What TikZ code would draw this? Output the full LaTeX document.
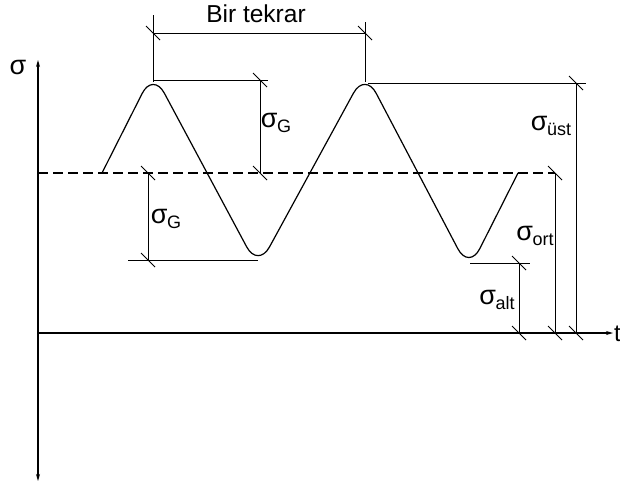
\documentclass[tikz,border=0pt]{standalone}
\usepackage{fontspec}
\setmainfont{Liberation Sans}
\usetikzlibrary{arrows.meta}
\newcommand{\sig}[1]{\fontsize{27}{30}\selectfont σ\kern-0.5pt\raisebox{-0.4ex}{\fontsize{18}{20}\selectfont #1}}
\begin{document}
\begin{tikzpicture}[x=1pt,y=-1pt,
  ln/.style={line width=1.2pt},
  thin/.style={line width=0.9pt},
  tk/.style={line width=0.9pt},
  lbl/.style={inner sep=0pt}]
\useasboundingbox (0,0) rectangle (620,483);
\clip (0,0) rectangle (620,483);
% key points
\coordinate (O) at (38,333);
\coordinate (Ytop) at (38,60);
\coordinate (Ybot) at (38,481);
\coordinate (Xend) at (613,333);
\coordinate (M0) at (38,173);
\coordinate (M1) at (555,173);
\coordinate (S) at (102,173);
\coordinate (P1) at (153,72);
\coordinate (T1) at (258,268);
\coordinate (P2) at (365,72);
\coordinate (T2) at (469,270);
\coordinate (E) at (518,173);
% axes
\draw[ln,{Stealth[length=7pt,width=4pt]}-{Stealth[length=7pt,width=4pt]}] (Ytop) -- (Ybot);
\draw[ln,-{Stealth[length=7pt,width=4pt]}] (O) -- (Xend);
\node[lbl,font=\fontsize{27}{30}\selectfont] (sl) at (18,67) {σ};
\node[lbl,font=\fontsize{24}{26}\selectfont,anchor=west] (tl) at (614,334) {t};
% mean line
\draw[ln,dash pattern=on 10pt off 5pt] (M0) -- (M1);
% wave
\draw[ln,rounded corners=24pt] (S) -- (P1) -- (T1) -- (P2) -- (T2) -- (E);
% Bir tekrar
\coordinate (b1t) at (153,15);
\coordinate (b1b) at (153,82);
\coordinate (b2t) at (365,22);
\coordinate (b2b) at (365,82);
\coordinate (d1) at (153,33);
\coordinate (d2) at (365,33);
\draw[thin] (b1t) -- (b1b);
\draw[thin] (b2t) -- (b2b);
\draw[thin] (d1) -- (d2);
\draw[tk] (d1) +(-7,-7) -- +(7,7);
\draw[tk] (d2) +(-7,-7) -- +(7,7);
\node[lbl,font=\fontsize{24.5}{28}\selectfont] (bt) at (256,14) {Bir tekrar};
% upper sigma_G
\coordinate (g1a) at (153,80);
\coordinate (g1b) at (268,80);
\coordinate (g1t) at (260,80);
\coordinate (g1m) at (260,173);
\draw[thin] (g1a) -- (g1b);
\draw[thin] (g1t) -- (g1m);
\draw[tk] (g1t) +(-7,-7) -- +(7,7);
\draw[tk] (g1m) +(-7,-7) -- +(7,7);
\node[lbl] (lg1) at (276,123) {\sig{G}};
% lower sigma_G
\coordinate (g2t) at (148,173);
\coordinate (g2b) at (148,260);
\coordinate (g2l) at (128,260);
\coordinate (g2r) at (258,260);
\draw[thin] (g2t) -- (g2b);
\draw[thin] (g2l) -- (g2r);
\draw[tk] (g2t) +(-7,-7) -- +(7,7);
\draw[tk] (g2b) +(-7,-7) -- +(7,7);
\node[lbl] (lg2) at (166,219) {\sig{G}};
% sigma_ust
\coordinate (ua) at (368,83);
\coordinate (ub) at (586,83);
\coordinate (ut) at (576,83);
\coordinate (ubb) at (576,333);
\draw[thin] (ua) -- (ub);
\draw[thin] (ut) -- (ubb);
\draw[tk] (ut) +(-7,-7) -- +(7,7);
\draw[tk] (ubb) +(-7,-7) -- +(7,7);
\node[lbl] (lu) at (551,126) {\sig{üst}};
% sigma_ort
\coordinate (ot) at (555,173);
\coordinate (ob) at (555,333);
\draw[thin] (ot) -- (ob);
\draw[tk] (ot) +(-7,-7) -- +(7,7);
\draw[tk] (ob) +(-7,-7) -- +(7,7);
\node[lbl] (lo) at (535,236) {\sig{ort}};
% sigma_alt
\coordinate (aa) at (470,263);
\coordinate (ab) at (530,263);
\coordinate (at) at (519,263);
\coordinate (abb) at (519,333);
\draw[thin] (aa) -- (ab);
\draw[thin] (at) -- (abb);
\draw[tk] (at) +(-7,-7) -- +(7,7);
\draw[tk] (abb) +(-7,-7) -- +(7,7);
\node[lbl] (la) at (497,300) {\sig{alt}};
\end{tikzpicture}
\end{document}
